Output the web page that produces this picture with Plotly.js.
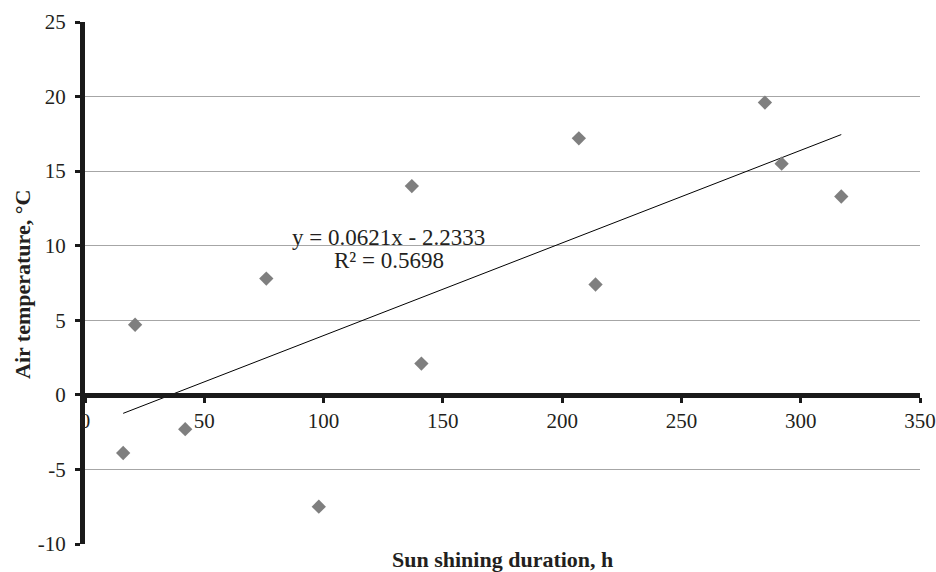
<!DOCTYPE html>
<html>
<head>
<meta charset="utf-8">
<script src="https://cdn.plot.ly/plotly-3.0.1.min.js"></script>
<style>html,body{margin:0;padding:0;background:#fff;}#chart{width:936px;height:572px;}</style>
</head>
<body>
<div id="chart"></div>
<script>
// Data
const sunHours = [16, 21, 42, 76, 98, 137, 141, 207, 214, 285, 292, 317];
const airTemp = [-3.9, 4.7, -2.3, 7.8, -7.5, 14.0, 2.1, 17.2, 7.4, 19.6, 15.5, 13.3];
const trendSlope = 0.0621;
const trendIntercept = -2.2333;
const rSquared = 0.5698;
const xTicks = [0, 50, 100, 150, 200, 250, 300, 350];
const yTicks = [-10, -5, 0, 5, 10, 15, 20, 25];

const xMin = Math.min(...sunHours), xMax = Math.max(...sunHours);
const trendX = [xMin, xMax];
const trendY = trendX.map(v => trendSlope * v + trendIntercept);

const textColor = '#231f20';
const serif = '"Liberation Serif", "Times New Roman", serif';
const tickFont = {family: serif, size: 21, color: textColor};
const eqFont = {family: serif, size: 23, color: textColor};
const titleFont = {family: serif, size: 22, color: textColor};

const traces = [
  {x: trendX, y: trendY, mode: 'lines', type: 'scatter',
   line: {color: '#000', width: 1}, hoverinfo: 'skip', showlegend: false},
  {x: sunHours, y: airTemp, mode: 'markers', type: 'scatter',
   marker: {symbol: 'diamond', size: 11, color: '#7f7f7f', line: {width: 0}}, showlegend: false}
];

const L = 85, R = 16, T = 22, B = 28, W = 936, H = 572;
const pw = W - L - R, ph = H - T - B;

const layout = {
  width: W, height: H,
  margin: {l: L, r: R, t: T, b: B},
  paper_bgcolor: '#fff', plot_bgcolor: '#fff',
  font: tickFont,
  showlegend: false,
  xaxis: {
    range: [0, 350], tickvals: xTicks, ticktext: xTicks.map(String),
    showgrid: false, zeroline: false,
    showline: true, linecolor: '#1a1a1a', linewidth: 5,
    ticks: 'outside', ticklen: 5, tickwidth: 3, tickcolor: '#1a1a1a',
    anchor: 'free', position: 10/35,
    ticklabelstandoff: 0,
    tickfont: tickFont
  },
  yaxis: {
    range: [-10, 25], tickvals: yTicks, ticktext: yTicks.map(String),
    showgrid: true, gridcolor: '#a6a6a6', gridwidth: 1,
    zeroline: false,
    showline: true, linecolor: '#1a1a1a', linewidth: 5,
    ticks: 'outside', ticklen: 5, tickwidth: 3, tickcolor: '#1a1a1a',
    ticklabelstandoff: 5,
    tickfont: tickFont
  },
  annotations: [
    {x: 127.4, y: 10.56, xref: 'x', yref: 'y', showarrow: false,
     text: 'y = ' + trendSlope + 'x - ' + Math.abs(trendIntercept),
     font: eqFont, xanchor: 'center', yanchor: 'middle'},
    {x: 127.4, y: 9.0, xref: 'x', yref: 'y', showarrow: false,
     text: 'R² = ' + rSquared,
     font: eqFont, xanchor: 'center', yanchor: 'middle'},
    {x: (502 - L) / pw, y: (H - B - 559) / ph, xref: 'paper', yref: 'paper', showarrow: false,
     text: '<b>Sun shining duration, h</b>', font: titleFont, xanchor: 'center', yanchor: 'middle'},
    {x: (22 - L) / pw, y: (H - B - 285) / ph, xref: 'paper', yref: 'paper', showarrow: false,
     text: '<b>Air temperature, °C</b>', font: titleFont, textangle: -90, xanchor: 'center', yanchor: 'middle'}
  ]
};

Plotly.newPlot('chart', traces, layout, {staticPlot: true, displayModeBar: false});
</script>
</body>
</html>
